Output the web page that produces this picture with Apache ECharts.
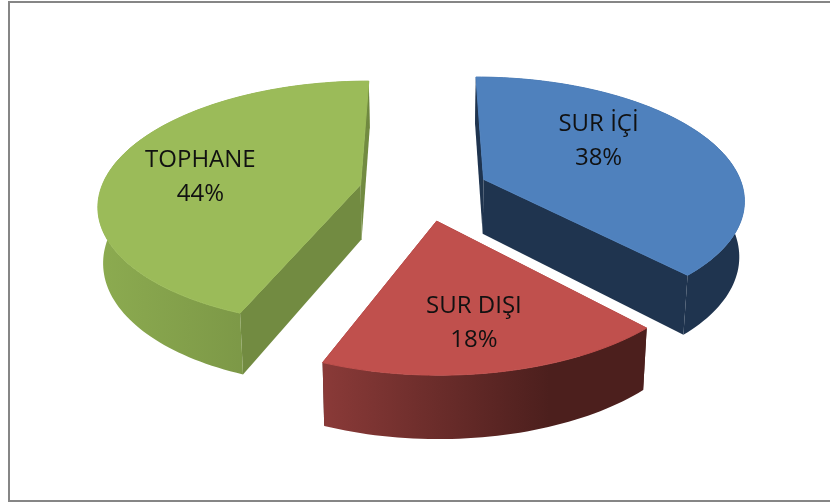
<!DOCTYPE html>
<html><head><meta charset="utf-8">
<style>html,body{margin:0;padding:0;background:#fff}#c{width:830px;height:502px}</style>
<script src="https://cdn.jsdelivr.net/npm/echarts@6/dist/echarts.min.js"></script>
</head><body><div id="c"></div>
<script>
const categories = ['SUR İÇİ', 'SUR DIŞI', 'TOPHANE'];
const shares = [38, 18, 44];
const topColors = ['#4F81BD', '#C0504D', '#9BBB59'];
const cutColors = ['#1F344F', '#4C1F1D', '#728B41'];
const rimStops = [
  [[0, '#1F344F'], [1, '#1F344F']],
  [[0, '#8A3A38'], [0.7, '#4C1F1D'], [1, '#4C1F1D']],
  [[0, '#8CAB50'], [1, '#6F883F']]
];
const labelRadius = [0.52, 0.64, 0.66];
const labelNudge = [[-4, -16], [0, 11], [3, 7]];

// Perspective model of the tilted disc
const CX = 424, CY = 190.3, A = 260, K = 120.7, P = 0.15, EXPLODE = 0.25;
const WALL = 55, WALL_P = 0.13, WALL_Q = 0.016;

function project(X, Y, bottom) {
  const w = 1 - P * Y;
  let x = CX + A * X / w, y = CY + K * Y / w;
  if (bottom) {
    x = CX + (x - CX) * (1 - WALL_Q);
    y += WALL * (1 + WALL_P * Y);
  }
  return [x, y];
}
function arcPoints(a0, a1, ox, oy, bottom) {
  const pts = [];
  const n = Math.max(8, Math.ceil((a1 - a0) * 40));
  for (let i = 0; i <= n; i++) {
    const a = a0 + (a1 - a0) * i / n;
    pts.push(project(ox + Math.sin(a), oy - Math.cos(a), bottom));
  }
  return pts;
}
const total = shares.reduce((s, v) => s + v, 0);

function renderSlice(params, api) {
  const idx = params.dataIndex;
  let before = 0;
  for (let i = 0; i < idx; i++) before += shares[i];
  const value = api.value(0);
  const a0 = before / total * Math.PI * 2;
  const a1 = (before + value) / total * Math.PI * 2;
  const mid = (a0 + a1) / 2;
  const ox = EXPLODE * Math.sin(mid), oy = -EXPLODE * Math.cos(mid);
  const topArc = arcPoints(a0, a1, ox, oy, false);
  const botArc = arcPoints(a0, a1, ox, oy, true);
  const apexT = project(ox, oy, false), apexB = project(ox, oy, true);
  const cut = (i) => ({
    type: 'polygon',
    shape: { points: [apexT, topArc[i], botArc[i], apexB] },
    style: { fill: cutColors[idx] }
  });
  const rimFill = new echarts.graphic.LinearGradient(0, 0, 1, 0,
    rimStops[idx].map((s) => ({ offset: s[0], color: s[1] })));
  const rim = {
    type: 'polygon',
    shape: { points: topArc.concat(botArc.slice().reverse()) },
    style: { fill: rimFill }
  };
  const lp = project(ox + labelRadius[idx] * Math.sin(mid), oy - labelRadius[idx] * Math.cos(mid), false);
  const label = {
    type: 'text',
    style: {
      text: categories[idx] + '\n' + value + '%',
      x: lp[0] + labelNudge[idx][0], y: lp[1] + labelNudge[idx][1],
      align: 'center', verticalAlign: 'middle',
      fill: '#111', font: '24px "Open Sans"', lineHeight: 34
    }
  };
  return {
    type: 'group',
    children: [cut(0), cut(topArc.length - 1), rim,
      { type: 'polygon', shape: { points: [apexT].concat(topArc) },
        style: { fill: topColors[idx], stroke: topColors[idx], lineWidth: 1 } },
      label]
  };
}

const chart = echarts.init(document.getElementById('c'), null, { renderer: 'canvas' });
chart.setOption({
  animation: false,
  backgroundColor: '#fff',
  graphic: [{
    type: 'rect', z: 0, silent: true,
    shape: { x: 9, y: 2, width: 900, height: 499 },
    style: { fill: 'none', stroke: '#868686', lineWidth: 2 }
  }],
  series: [{
    type: 'custom',
    coordinateSystem: 'none',
    renderItem: renderSlice,
    data: shares.map((v) => [v]),
    z: 5
  }]
});
</script></body></html>
